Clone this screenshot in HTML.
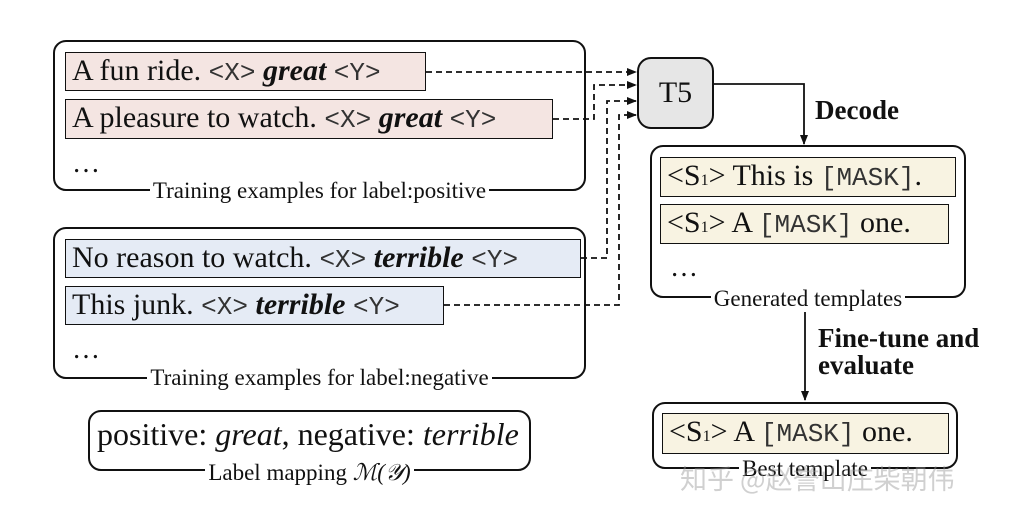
<!DOCTYPE html>
<html><head><meta charset="utf-8"><style>
body{margin:0;width:1020px;height:520px;background:#fff;position:relative;overflow:hidden;font-family:"Liberation Serif",serif;color:#111}
.a{position:absolute;box-sizing:border-box}
.grp{border:2px solid #111;border-radius:13px}
.tb{border:1.6px solid #111;font-size:30px;line-height:36px;padding-left:6px;white-space:nowrap;overflow:visible}
.pos{background:#f4e5e2}.neg{background:#e5ebf5}.tpl{background:#f8f3e2}
.m{font-family:"Liberation Mono",monospace;font-size:26px;color:#333}
.lc{position:absolute;text-align:center;height:0}
.lbl{font-size:23px;background:#fff;padding:0 3px;white-space:nowrap;line-height:22px;display:inline-block}
.b{font-weight:bold}
</style></head><body>
<div class="a grp" style="left:53px;top:40px;width:533px;height:151px"></div>
<div class="a tb pos" style="left:65px;top:52px;width:361px;height:39px">A fun ride. <span class="m">&lt;X&gt;</span> <b><i>great</i></b> <span class="m">&lt;Y&gt;</span></div>
<div class="a tb pos" style="left:65px;top:99px;width:488px;height:40px">A pleasure to watch. <span class="m">&lt;X&gt;</span> <b><i>great</i></b> <span class="m">&lt;Y&gt;</span></div>
<div class="a" style="left:72px;top:148px;font-size:28px">…</div>
<div class="lc" style="left:53px;width:533px;top:180px"><span class="lbl">Training examples for label:positive</span></div>

<div class="a grp" style="left:53px;top:227px;width:533px;height:152px"></div>
<div class="a tb neg" style="left:65px;top:239px;width:516px;height:39px">No reason to watch. <span class="m">&lt;X&gt;</span> <b><i>terrible</i></b> <span class="m">&lt;Y&gt;</span></div>
<div class="a tb neg" style="left:65px;top:286px;width:379px;height:39px">This junk. <span class="m">&lt;X&gt;</span> <b><i>terrible</i></b> <span class="m">&lt;Y&gt;</span></div>
<div class="a" style="left:72px;top:334px;font-size:28px">…</div>
<div class="lc" style="left:53px;width:533px;top:367px"><span class="lbl">Training examples for label:negative</span></div>

<div class="a grp" style="left:88px;top:410px;width:443px;height:61px"></div>
<div class="a" style="left:97px;top:416px;font-size:32px;white-space:nowrap">positive: <i>great</i>, negative: <i>terrible</i></div>
<div class="lc" style="left:88px;width:443px;top:462px"><span class="lbl">Label mapping <i>ℳ(𝒴)</i></span></div>

<div class="a" style="left:637px;top:57px;width:77px;height:72px;border:2px solid #111;border-radius:14px;background:#e6e6e6;font-size:30px;text-align:center;line-height:68px">T5</div>
<div class="a b" style="left:815px;top:95px;font-size:27px">Decode</div>

<div class="a grp" style="left:650px;top:145px;width:316px;height:153px"></div>
<div class="a tb tpl" style="left:660px;top:157px;width:296px;height:40px">&lt;S<span style="font-size:16px">1</span>&gt; This is <span class="m">[MASK]</span>.</div>
<div class="a tb tpl" style="left:660px;top:204px;width:289px;height:40px">&lt;S<span style="font-size:16px">1</span>&gt; A <span class="m">[MASK]</span> one.</div>
<div class="a" style="left:670px;top:252px;font-size:28px">…</div>
<div class="lc" style="left:650px;width:316px;top:288px"><span class="lbl">Generated templates</span></div>

<div class="a b" style="left:818px;top:325px;font-size:27px;line-height:27px">Fine-tune and<br>evaluate</div>

<div class="a grp" style="left:652px;top:402px;width:306px;height:67px"></div>
<div class="a tb tpl" style="left:662px;top:413px;width:287px;height:41px">&lt;S<span style="font-size:16px">1</span>&gt; A <span class="m">[MASK]</span> one.</div>
<div class="lc" style="left:652px;width:306px;top:458px"><span class="lbl">Best template</span></div>
<div class="a" style="left:680px;top:458px;font-size:27px;color:rgba(150,150,150,0.45);font-family:'Noto Sans CJK SC',sans-serif">知乎 @赵誉山庄柴朝伟</div>

<svg class="a" style="left:0;top:0" width="1020" height="520">
<defs><marker id="ah" markerWidth="10" markerHeight="8" refX="9" refY="4" orient="auto" markerUnits="userSpaceOnUse"><path d="M0,0L10,4L0,8z" fill="#111"/></marker></defs>
<g stroke="#111" stroke-width="1.8" fill="none" stroke-dasharray="6,4">
<path d="M426,72H636" marker-end="url(#ah)"/>
<path d="M553,119H594V85H636" marker-end="url(#ah)"/>
<path d="M581,258H607V101H636" marker-end="url(#ah)"/>
<path d="M444,305H619V115H636" marker-end="url(#ah)"/>
</g>
<g stroke="#111" stroke-width="1.8" fill="none">
<path d="M714,84H804V144" marker-end="url(#ah)"/>
<path d="M805,312V400" marker-end="url(#ah)"/>
</g>
</svg>
</body></html>
